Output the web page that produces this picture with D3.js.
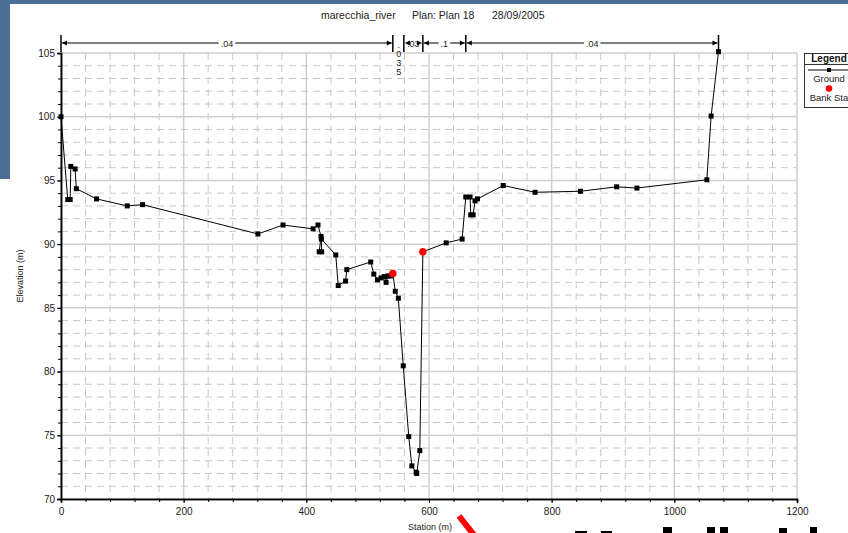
<!DOCTYPE html>
<html><head><meta charset="utf-8">
<script src="https://cdn.jsdelivr.net/npm/d3@7"></script>
<style>body{margin:0;background:#fff}svg{display:block;font-family:"Liberation Sans",Arial,sans-serif}</style>
</head><body>
<script>
// ---- data ----
const title = ["marecchia_river", "Plan: Plan 18", "28/09/2005"];
const stations = [0,11,15,16,23,25,58,108,133,321,362,411,419,424,421,425,424.5,448,452,464,466,505,510,516,522,527,530,533,537,541,545,550,558,567,572,579,580,585,590,628,654,660,667,668,672,675,679,721,773,847,906,939,1053,1060,1072];
const elevations = [100,93.5,93.5,96.1,95.9,94.35,93.55,93.0,93.1,90.8,91.5,91.2,91.5,90.6,89.4,89.4,90.4,89.15,86.75,87.1,88.0,88.6,87.65,87.2,87.35,87.45,87.0,87.5,87.5,87.7,86.3,85.75,80.45,74.9,72.6,72.1,72.0,73.8,89.4,90.1,90.4,93.7,93.7,92.3,92.3,93.4,93.55,94.6,94.07,94.15,94.5,94.4,95.05,100.05,105.1];
const bankStations = [541, 590];
const bankElevations = [87.7, 89.4];
const nBreaks = [0, 541, 559, 590, 660, 1072];
const nValues = [".04", ".035", ".03", ".1", ".04"];
const xTicks = [0, 200, 400, 600, 800, 1000, 1200];
const yTicks = [70, 75, 80, 85, 90, 95, 100, 105];
const legendItems = ["Ground", "Bank Sta"];

const W = 848, H = 533;
const m = {l: 61, t: 53, r: 51, b: 34};
const svg = d3.select("body").append("svg").attr("width", W).attr("height", H);

// slide background remnants
svg.append("rect").attr("x",0).attr("y",0).attr("width",W).attr("height",4).attr("fill","#4b6e95");
svg.append("rect").attr("x",0).attr("y",0).attr("width",10).attr("height",179).attr("fill","#4b6e95");

const x = d3.scaleLinear().domain([0, 1200]).range([m.l, W - m.r]);
const y = d3.scaleLinear().domain([70, 105]).range([H - m.b, m.t]);

// minor grid
const gridCol = "#c8c8c8";
const xMinor = d3.range(0, 1201, 40).filter(v => v % 200 !== 0);
const yMinor = d3.range(70, 106, 1).filter(v => v % 5 !== 0);
const g = svg.append("g");
g.selectAll(".hm").data(yMinor).join("line")
  .attr("x1", m.l).attr("x2", x(1200)).attr("y1", d => y(d)).attr("y2", d => y(d))
  .attr("stroke", gridCol).attr("stroke-width", 1).attr("stroke-dasharray", "7,5");
g.selectAll(".vm").data(xMinor).join("line")
  .attr("y1", y(105)).attr("y2", y(70)).attr("x1", d => x(d)).attr("x2", d => x(d))
  .attr("stroke", gridCol).attr("stroke-width", 1).attr("stroke-dasharray", "7,5");
// major grid
g.selectAll(".hM").data(yTicks).join("line")
  .attr("x1", m.l).attr("x2", x(1200)).attr("y1", d => y(d)).attr("y2", d => y(d))
  .attr("stroke", "#cfcfcf").attr("stroke-width", 1.5);
g.selectAll(".vM").data(xTicks).join("line")
  .attr("y1", y(105)).attr("y2", y(70)).attr("x1", d => x(d)).attr("x2", d => x(d))
  .attr("stroke", "#cfcfcf").attr("stroke-width", 1.5);

// axes
const xAxisMinor = d3.axisBottom(x).tickValues(d3.range(0,1201,40)).tickSize(3).tickFormat("");
const xAxis = d3.axisBottom(x).tickValues(xTicks).tickSize(4).tickFormat(d3.format("d"));
const yAxisMinor = d3.axisLeft(y).tickValues(d3.range(70,106,1)).tickSize(3).tickFormat("");
const yAxis = d3.axisLeft(y).tickValues(yTicks).tickSize(4).tickFormat(d3.format("d"));
function styleAxis(sel){
  sel.selectAll("path").attr("stroke","#000").attr("stroke-width",1.5);
  sel.selectAll("line").attr("stroke","#000");
  sel.selectAll("text").attr("font-size","10px").attr("fill","#222").attr("font-family","Liberation Sans, Arial, sans-serif");
}
svg.append("g").attr("transform",`translate(0,${y(70)})`).call(xAxisMinor).call(styleAxis);
svg.append("g").attr("transform",`translate(0,${y(70)})`).call(xAxis).call(styleAxis)
  .selectAll("text").attr("dy","0.9em");
svg.append("g").attr("transform",`translate(${m.l},0)`).call(yAxisMinor).call(styleAxis);
svg.append("g").attr("transform",`translate(${m.l},0)`).call(yAxis).call(styleAxis)
  .selectAll("text").attr("dx","0.1em");

// axis labels
svg.append("text").attr("x", 430).attr("y", 530).attr("text-anchor","middle")
  .attr("font-size","9px").attr("fill","#222").text("Station (m)");
svg.append("text").attr("transform","translate(23,276) rotate(-90)").attr("text-anchor","middle")
  .attr("font-size","9px").attr("fill","#222").text("Elevation (m)");

// title
const tx = [321, 412, 492];
title.forEach((t,i)=> svg.append("text").attr("x", tx[i]).attr("y", 19)
  .attr("font-size","10.5px").attr("fill","#222").text(t));

// ground line
const pts = stations.map((s,i)=>[s, elevations[i]]);
svg.append("path").datum(pts)
  .attr("d", d3.line().x(d=>x(d[0])).y(d=>y(d[1])))
  .attr("fill","none").attr("stroke","#000").attr("stroke-width",1);
svg.selectAll(".sq").data(pts).join("rect")
  .attr("x", d=>x(d[0])-2.5).attr("y", d=>y(d[1])-2.5).attr("width",5).attr("height",5).attr("fill","#000");
// bank stations
svg.selectAll(".bk").data(bankStations).join("circle")
  .attr("cx", d=>x(d)).attr("cy", (d,i)=>y(bankElevations[i])).attr("r",3.8).attr("fill","#ff0000");

// Manning's n annotations
const ay = 43;
const ann = svg.append("g");
nBreaks.forEach(b => ann.append("line").attr("x1",x(b)).attr("x2",x(b)).attr("y1",35).attr("y2",52)
  .attr("stroke","#000").attr("stroke-width",1.5));
function arrow(px, dir){ // dir=-1 pointing left, +1 pointing right
  ann.append("path").attr("d",`M${px},${ay} L${px-dir*5},${ay-2.5} L${px-dir*5},${ay+2.5} Z`).attr("fill","#000");
}
nValues.forEach((v,i)=>{
  const a = x(nBreaks[i]), b = x(nBreaks[i+1]), w = b - a, c = (a+b)/2;
  if (w < 15) {
    v.split("").forEach((ch,k)=> ann.append("text").attr("x",c+0.5).attr("y",48 + k*9)
      .attr("text-anchor","middle").attr("font-size","9px").attr("fill","#222").text(ch));
    return;
  }
  ann.append("line").attr("x1",a+1).attr("x2",b-1).attr("y1",ay).attr("y2",ay).attr("stroke","#555").attr("stroke-width",1.5);
  const t = ann.append("text").attr("x",c).attr("y",ay+3.5).attr("text-anchor","middle")
    .attr("font-size","9px").attr("fill","#222").text(v);
  const bb = t.node().getBBox();
  ann.insert("rect","text:last-of-type").attr("x",bb.x-2).attr("y",ay-2).attr("width",bb.width+4).attr("height",4).attr("fill","#fff");
  t.raise();
  arrow(a+1, -1); arrow(b-1, 1);
});

// legend
const lg = svg.append("g");
lg.append("rect").attr("x",804.5).attr("y",53.5).attr("width",49).attr("height",54)
  .attr("fill","#fff").attr("stroke","#333").attr("stroke-width",1);
lg.append("line").attr("x1",804.5).attr("x2",853.5).attr("y1",64.5).attr("y2",64.5).attr("stroke","#333");
lg.append("text").attr("x",829).attr("y",62).attr("text-anchor","middle").attr("font-size","10px")
  .attr("font-weight","bold").attr("fill","#111").text("Legend");
lg.append("line").attr("x1",808).attr("x2",850).attr("y1",70).attr("y2",70).attr("stroke","#000");
lg.append("rect").attr("x",827).attr("y",68).attr("width",4).attr("height",4).attr("fill","#000");
lg.append("text").attr("x",829).attr("y",82).attr("text-anchor","middle").attr("font-size","9.5px").attr("fill","#222").text(legendItems[0]);
lg.append("circle").attr("cx",829).attr("cy",88.5).attr("r",3.3).attr("fill","#ff0000");
lg.append("text").attr("x",829).attr("y",101).attr("text-anchor","middle").attr("font-size","9.5px").attr("fill","#222").text(legendItems[1]);

// slide decorations at bottom
svg.append("line").attr("x1",459).attr("y1",516).attr("x2",474).attr("y2",535)
  .attr("stroke","#ff0000").attr("stroke-width",6);
const blocks = [[575,531,12],[601,531,11],[663,527,9],[707,527,8],[720,527,8],[779,528,8],[810,527,7]];
blocks.forEach(bk=> svg.append("rect").attr("x",bk[0]).attr("y",bk[1]).attr("width",bk[2]).attr("height",H-bk[1]).attr("fill","#000"));
</script>
</body></html>
